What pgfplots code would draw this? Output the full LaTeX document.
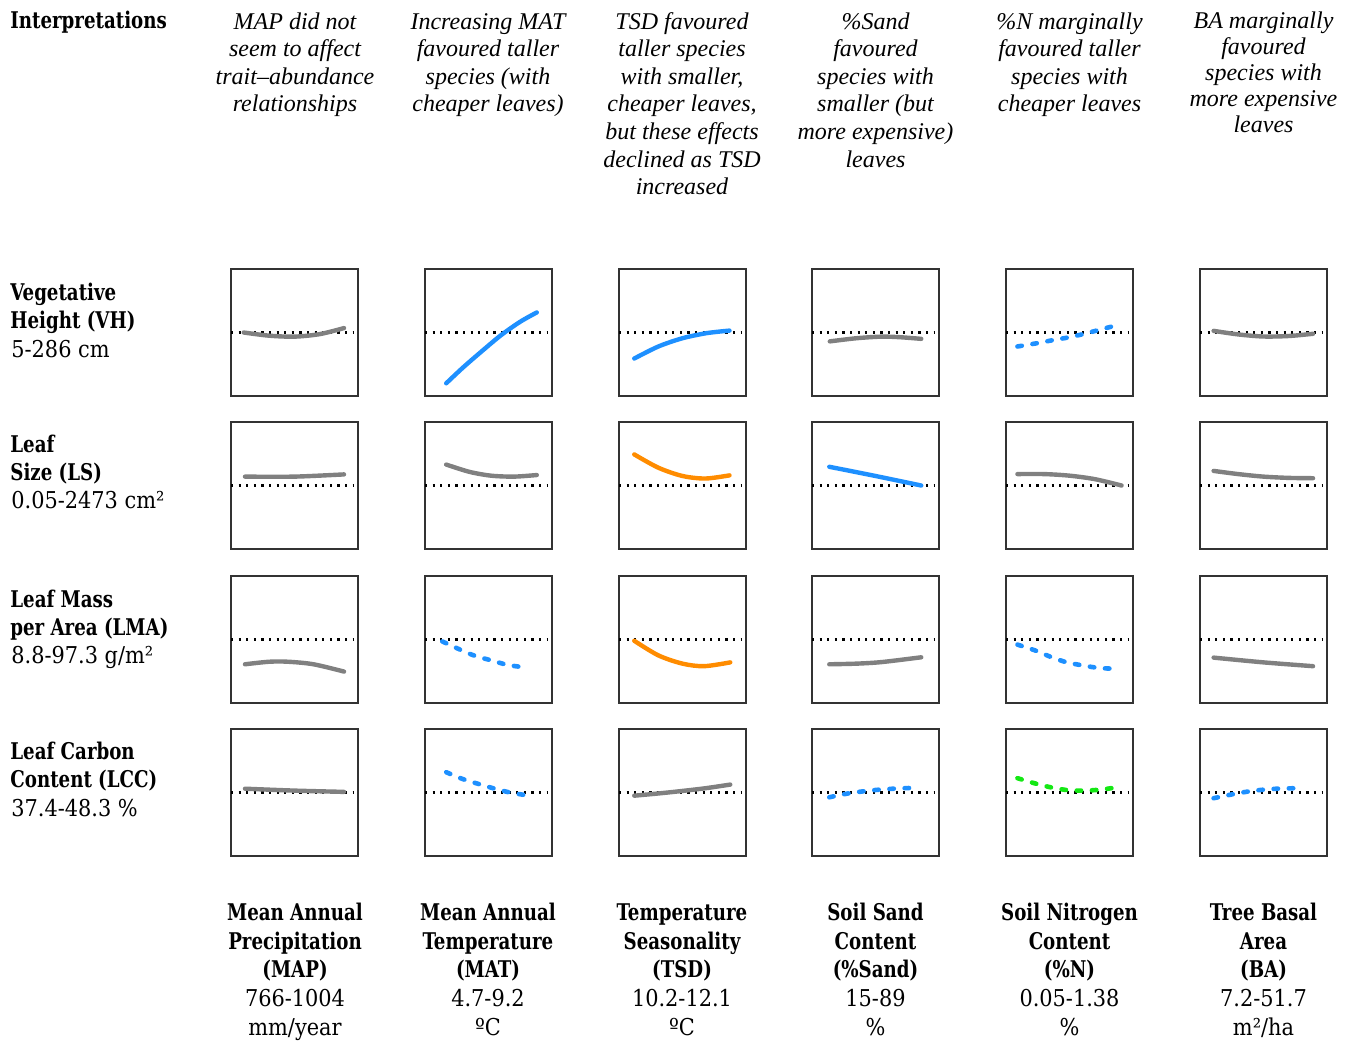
\documentclass[border=0pt]{standalone}
\usepackage{fontspec}
\usepackage{pgfplots}
\pgfplotsset{compat=1.18}
\setmainfont{DejaVu Serif Condensed}
\newfontfamily\tnr{Liberation Serif}
\newfontfamily\blab[FakeStretch=0.88]{DejaVu Serif Condensed}
\definecolor{cgray}{RGB}{128,128,128}
\definecolor{cblue}{RGB}{30,144,255}
\definecolor{corange}{RGB}{255,140,0}
\definecolor{cgreen}{RGB}{20,232,20}
\pgfplotsset{
  panel/.style={x=63.5pt,y=31.75pt,scale only axis,anchor=south west,
    xmin=0,xmax=1,ymin=-1,ymax=1,xtick=\empty,ytick=\empty,
    axis line style={draw=black!80,line width=0.7pt}},
  zero/.style={black,line width=1.1pt,dash pattern=on 1.1pt off 2.7pt,forget plot},
  solidc/.style={line width=2.2pt,line cap=round,smooth},
  dashc/.style={line width=2.3pt,line cap=round,smooth,dash pattern=on 2.2pt off 5.4pt},
}
\newcommand{\panel}[4]{%
  \pgfmathsetmacro{\px}{#1*0.5}\pgfmathsetmacro{\py}{-#2*0.5}%
  \begin{axis}[panel,at={(\px pt,\py pt)}]
    \addplot[zero] coordinates {(0,0) (0.97,0)};
    \addplot[#3] coordinates {#4};
  \end{axis}}
\newcommand{\interp}{\tnr\itshape\fontsize{12}{14}\selectfont}
\newcommand{\lab}{\blab\bfseries\fontsize{11.5}{13}\selectfont}
\newcommand{\num}{\fontsize{11.6}{13}\selectfont}
\begin{document}
\begin{tikzpicture}[x=0.5pt,y=-0.5pt]
\path[use as bounding box] (0,0) rectangle (1353,1040);
% ---------- panels ----------
% Row 1 VH
\panel{231}{396}{solidc,cgray}{(0.10,0.0)(0.3,-0.05)(0.5,-0.065)(0.7,-0.025)(0.89,0.07)}
\panel{425}{396}{solidc,cblue}{(0.167,-0.80)(0.3,-0.55)(0.45,-0.29)(0.6,-0.04)(0.75,0.17)(0.88,0.316)}
\panel{619}{396}{solidc,cblue}{(0.12,-0.41)(0.31,-0.22)(0.5,-0.09)(0.69,-0.01)(0.87,0.03)}
\panel{812}{396}{solidc,cgray}{(0.14,-0.14)(0.35,-0.09)(0.55,-0.065)(0.7,-0.075)(0.86,-0.10)}
\panel{1006}{396}{dashc,cblue}{(0.09,-0.22)(0.24,-0.17)(0.37,-0.12)(0.5,-0.074)(0.625,-0.016)(0.75,0.05)(0.9,0.13)}
\panel{1200}{396}{solidc,cgray}{(0.107,0.026)(0.3,-0.03)(0.5,-0.063)(0.7,-0.055)(0.89,-0.02)}
% Row 2 LS
\panel{231}{549}{solidc,cgray}{(0.11,0.14)(0.5,0.14)(0.89,0.175)}
\panel{425}{549}{solidc,cgray}{(0.167,0.33)(0.35,0.215)(0.52,0.155)(0.7,0.14)(0.88,0.165)}
\panel{619}{549}{solidc,corange}{(0.12,0.49)(0.31,0.28)(0.5,0.15)(0.68,0.11)(0.87,0.16)}
\panel{812}{549}{solidc,cblue}{(0.136,0.295)(0.5,0.15)(0.86,0.0)}
\panel{1006}{549}{solidc,cgray}{(0.09,0.18)(0.3,0.18)(0.5,0.155)(0.7,0.10)(0.91,0.0)}
\panel{1200}{549}{solidc,cgray}{(0.107,0.23)(0.3,0.18)(0.5,0.14)(0.7,0.12)(0.89,0.115)}
% Row 3 LMA
\panel{231}{703}{solidc,cgray}{(0.11,-0.39)(0.3,-0.35)(0.45,-0.35)(0.65,-0.39)(0.89,-0.505)}
\panel{425}{703}{dashc,cblue}{(0.136,-0.03)(0.277,-0.16)(0.397,-0.26)(0.525,-0.33)(0.65,-0.40)(0.79,-0.44)}
\panel{619}{703}{solidc,corange}{(0.12,-0.02)(0.31,-0.25)(0.5,-0.38)(0.67,-0.42)(0.876,-0.36)}
\panel{812}{703}{solidc,cgray}{(0.136,-0.39)(0.35,-0.38)(0.55,-0.355)(0.86,-0.28)}
\panel{1006}{703}{dashc,cblue}{(0.09,-0.08)(0.24,-0.18)(0.36,-0.28)(0.48,-0.36)(0.61,-0.41)(0.74,-0.45)(0.88,-0.46)}
\panel{1200}{703}{solidc,cgray}{(0.107,-0.285)(0.5,-0.36)(0.89,-0.42)}
% Row 4 LCC
\panel{231}{856}{solidc,cgray}{(0.11,0.06)(0.5,0.03)(0.89,0.01)}
\panel{425}{856}{dashc,cblue}{(0.167,0.32)(0.3,0.21)(0.43,0.13)(0.55,0.06)(0.67,0.0)(0.82,-0.05)}
\panel{619}{856}{solidc,cgray}{(0.12,-0.05)(0.31,-0.015)(0.5,0.025)(0.69,0.07)(0.876,0.125)}
\panel{812}{856}{dashc,cblue}{(0.136,-0.075)(0.28,-0.016)(0.41,0.02)(0.54,0.047)(0.67,0.063)(0.81,0.074)}
\panel{1006}{856}{dashc,cgreen}{(0.09,0.226)(0.24,0.137)(0.37,0.074)(0.49,0.037)(0.62,0.03)(0.75,0.047)(0.885,0.085)}
\panel{1200}{856}{dashc,cblue}{(0.107,-0.09)(0.25,-0.03)(0.38,0.016)(0.51,0.047)(0.64,0.063)(0.785,0.068)}
% ---------- header ----------
\node[anchor=base west,font=\lab,inner sep=0pt] at (10,28) {Interpretations};
\begin{scope}[every node/.style={anchor=base,font=\interp,inner sep=0pt}]
\node at (295,29) {MAP did not};
\node at (295,56.6) {seem to affect};
\node at (295,84.2) {trait–abundance};
\node at (295,111.8) {relationships};
\node at (488,29) {Increasing MAT};
\node at (488,56.6) {favoured taller};
\node at (488,84.2) {species (with};
\node at (488,111.8) {cheaper leaves)};
\node at (682,29) {TSD favoured};
\node at (682,56.6) {taller species};
\node at (682,84.2) {with smaller,};
\node at (682,111.8) {cheaper leaves,};
\node at (682,139.4) {but these effects};
\node at (682,167) {declined as TSD};
\node at (682,194.6) {increased};
\node at (875.5,29) {\%Sand};
\node at (875.5,56.6) {favoured};
\node at (875.5,84.2) {species with};
\node at (875.5,111.8) {smaller (but};
\node at (875.5,139.4) {more expensive)};
\node at (875.5,167) {leaves};
\node at (1069.5,29) {\%N marginally};
\node at (1069.5,56.6) {favoured taller};
\node at (1069.5,84.2) {species with};
\node at (1069.5,111.8) {cheaper leaves};
\node at (1263.5,28) {BA marginally};
\node at (1263.5,54) {favoured};
\node at (1263.5,80) {species with};
\node at (1263.5,106.5) {more expensive};
\node at (1263.5,132.5) {leaves};
\end{scope}
% ---------- row labels ----------
\begin{scope}[every node/.style={anchor=base west,font=\num,inner sep=0pt}]
\node[font=\lab] at (10,300.5) {Vegetative};
\node[font=\lab] at (10,328.5) {Height (VH)};
\node at (11,357) {5-286 cm};
\node[font=\lab] at (10,452) {Leaf};
\node[font=\lab] at (10,480) {Size (LS)};
\node at (11,508.5) {0.05-2473 cm²};
\node[font=\lab] at (10,607) {Leaf Mass};
\node[font=\lab] at (10,635) {per Area (LMA)};
\node at (11,663.5) {8.8-97.3 g/m²};
\node[font=\lab] at (10,759.5) {Leaf Carbon};
\node[font=\lab] at (10,787.5) {Content (LCC)};
\node at (11,816) {37.4-48.3 \%};
\end{scope}
% ---------- bottom labels ----------
\begin{scope}[every node/.style={anchor=base,font=\num,inner sep=0pt}]
\foreach \cx/\a/\b/\c/\d/\e in {295/Mean Annual/Precipitation/(MAP)/766-1004/mm\slash year,
  488/Mean Annual/Temperature/(MAT)/4.7-9.2/ºC,
  682/Temperature/Seasonality/(TSD)/10.2-12.1/ºC,
  875.5/Soil Sand/Content/(\%Sand)/15-89/\%,
  1069.5/Soil Nitrogen/Content/(\%N)/0.05-1.38/\%,
  1263.5/Tree Basal/Area/(BA)/7.2-51.7/m²\slash ha}{
  \node[font=\lab] at (\cx,920) {\a};
  \node[font=\lab] at (\cx,949) {\b};
  \node[font=\lab] at (\cx,977.5) {\c};
  \node at (\cx,1006.5) {\d};
  \node at (\cx,1035) {\e};
}
\end{scope}
\end{tikzpicture}
\end{document}
